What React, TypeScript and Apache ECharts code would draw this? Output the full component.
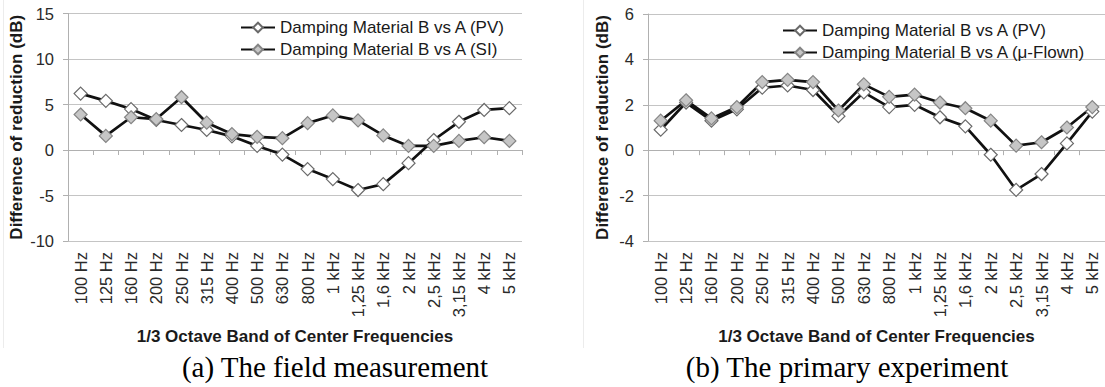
import React, { useEffect, useRef } from "react";
import * as echarts from "echarts";

const freqs = ["100 Hz", "125 Hz", "160 Hz", "200 Hz", "250 Hz", "315 Hz", "400 Hz", "500 Hz", "630 Hz", "800 Hz", "1 kHz", "1,25 kHz", "1,6 kHz", "2 kHz", "2,5 kHz", "3,15 kHz", "4 kHz", "5 kHz"];

const fieldPV = [6.2, 5.4, 4.5, 3.3, 2.75, 2.2, 1.5, 0.45, -0.5, -2.1, -3.2, -4.4, -3.75, -1.45, 1.1, 3.1, 4.4, 4.6];
const fieldSI = [3.9, 1.55, 3.6, 3.4, 5.8, 3.0, 1.75, 1.45, 1.3, 2.95, 3.8, 3.25, 1.6, 0.45, 0.45, 1.0, 1.4, 1.0];

const primPV = [0.9, 2.1, 1.3, 1.8, 2.75, 2.85, 2.65, 1.5, 2.55, 1.9, 2.0, 1.45, 1.05, -0.2, -1.75, -1.05, 0.3, 1.7];
const primFlown = [1.3, 2.2, 1.4, 1.9, 3.0, 3.1, 3.0, 1.75, 2.9, 2.35, 2.45, 2.1, 1.85, 1.3, 0.2, 0.35, 1.0, 1.9];

const nameFieldPV = "Damping Material B vs A (PV)";
const nameFieldSI = "Damping Material B vs A (SI)";
const namePrimPV = "Damping Material B vs A (PV) ";
const namePrimFlown = "Damping Material B vs A (μ-Flown)";

const xTitle = "1/3 Octave Band of Center Frequencies";
const yTitle = "Difference of reduction (dB)";
const captionA = "(a) The field measurement";
const captionB = "(b) The primary experiment";

const FONT = "'Liberation Sans', Arial, sans-serif";
const SERIF = "'Liberation Serif', 'Times New Roman', serif";

export default function App() {
  const ref = useRef<HTMLDivElement>(null);
  useEffect(() => {
    if (!ref.current) return;
    const chart = echarts.init(ref.current, undefined, { renderer: "svg" });

    const xAxisCommon = (gridIndex: number) => ({
      type: "category",
      gridIndex,
      data: freqs,
      boundaryGap: true,
      axisLine: { lineStyle: { color: "#b0b0b0", width: 1 } },
      axisTick: { show: true, length: 5, interval: 0, lineStyle: { color: "#b0b0b0" } },
      axisLabel: { rotate: 90, interval: 0, margin: 11, fontSize: 16.5, color: "#2a2a2a", fontFamily: FONT },
      name: xTitle,
      nameLocation: "middle",
      nameGap: 87,
      nameTextStyle: { fontSize: 17, fontWeight: "bold", color: "#1a1a1a", fontFamily: FONT },
    });
    const yAxisCommon = (gridIndex: number, min: number, max: number, interval: number, nameGap: number) => ({
      type: "value",
      gridIndex,
      min,
      max,
      interval,
      axisLine: { show: true, lineStyle: { color: "#b0b0b0", width: 1 } },
      axisTick: { show: true, length: 5, lineStyle: { color: "#b0b0b0" } },
      splitLine: { show: true, lineStyle: { color: "#c4c4c4", width: 1.2 } },
      axisLabel: { margin: 14, fontSize: 16.5, color: "#2a2a2a", fontFamily: FONT },
      name: yTitle,
      nameLocation: "middle",
      nameGap,
      nameRotate: 90,
      nameTextStyle: { fontSize: 17, fontWeight: "bold", color: "#1a1a1a", fontFamily: FONT },
    });

    const whiteSeries = (name: string, data: number[], idx: number) => ({
      type: "line",
      name,
      data,
      xAxisIndex: idx,
      yAxisIndex: idx,
      symbol: "diamond",
      symbolSize: 13,
      lineStyle: { color: "#111111", width: 2.7 },
      itemStyle: { color: "#ffffff", borderColor: "#6a6a6a", borderWidth: 1.2 },
      emphasis: { disabled: true },
    });
    const graySeries = (name: string, data: number[], idx: number) => ({
      type: "line",
      name,
      data,
      xAxisIndex: idx,
      yAxisIndex: idx,
      symbol: "diamond",
      symbolSize: 13,
      lineStyle: { color: "#111111", width: 2.7 },
      itemStyle: { color: "#c6c6c6", borderColor: "#858585", borderWidth: 1.2 },
      emphasis: { disabled: true },
    });

    const legendCommon = {
      orient: "vertical",
      itemWidth: 34,
      itemHeight: 12,
      itemGap: 5,
      textStyle: { fontSize: 17, color: "#1a1a1a", fontFamily: FONT },
      padding: [2, 2, 2, 0],
    };

    chart.setOption({
      animation: false,
      backgroundColor: "#ffffff",
      grid: [
        { left: 68, top: 13.5, width: 454, height: 227.5 },
        { left: 648, top: 14, width: 462, height: 227 },
      ],
      xAxis: [xAxisCommon(0), xAxisCommon(1)],
      yAxis: [yAxisCommon(0, -10, 15, 5, 43), yAxisCommon(1, -4, 6, 2, 37)],
      legend: [
        { ...legendCommon, left: 240, top: 17, data: [nameFieldPV, nameFieldSI] },
        { ...legendCommon, left: 782, top: 20, data: [namePrimPV, namePrimFlown] },
      ],
      series: [
        whiteSeries(nameFieldPV, fieldPV, 0),
        graySeries(nameFieldSI, fieldSI, 0),
        whiteSeries(namePrimPV, primPV, 1),
        graySeries(namePrimFlown, primFlown, 1),
      ],
      graphic: [
        { type: "line", shape: { x1: 3.5, y1: 0, x2: 3.5, y2: 348 }, style: { stroke: "#ececec", lineWidth: 1 } },
        { type: "line", shape: { x1: 583.5, y1: 0, x2: 583.5, y2: 348 }, style: { stroke: "#ececec", lineWidth: 1 } },
        {
          type: "text",
          x: 335,
          y: 367,
          style: { text: captionA, fontSize: 29, fontFamily: SERIF, fill: "#000", align: "center", verticalAlign: "middle" },
        },
        {
          type: "text",
          x: 847,
          y: 367,
          style: { text: captionB, fontSize: 29, fontFamily: SERIF, fill: "#000", align: "center", verticalAlign: "middle" },
        },
      ],
    });
    return () => chart.dispose();
  }, []);
  return <div ref={ref} style={{ position: "absolute", left: 0, top: 0, width: 1105, height: 387 }} />;
}
